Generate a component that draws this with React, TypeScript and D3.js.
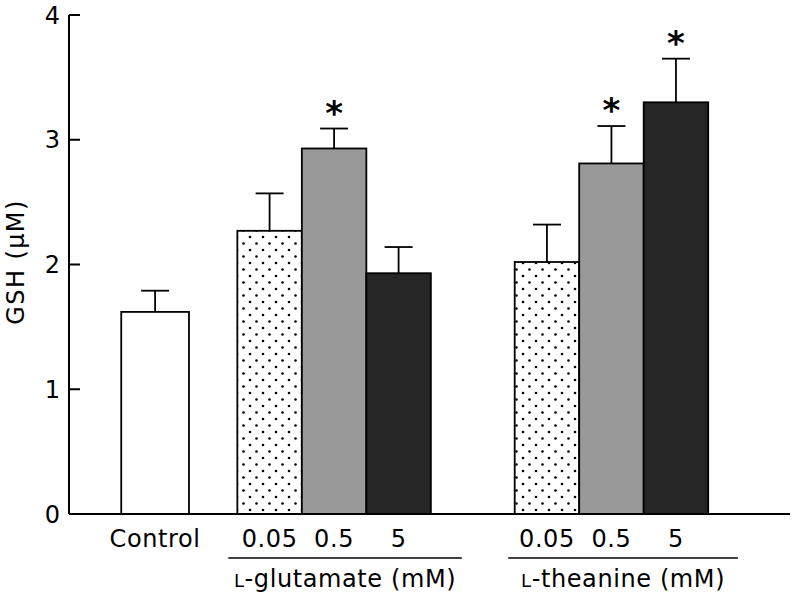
import React from 'react';
import * as d3 from 'd3';

// values
const groups = ['Control', 'L-glutamate', 'L-theanine'];
const doses = ['0.05', '0.5', '5'];
const controlMean = [1.62];
const controlErr = [0.17];
const glutamateMean = [2.27, 2.93, 1.93];
const glutamateErr = [0.30, 0.16, 0.21];
const theanineMean = [2.02, 2.81, 3.30];
const theanineErr = [0.30, 0.30, 0.35];
const glutamateSig = [false, true, false];
const theanineSig = [false, true, true];
const yTicks = [0, 1, 2, 3, 4];

const fills = ['url(#dots)', '#999999', '#262626'];
const FONT = '"DejaVu Sans", Verdana, sans-serif';
const FS = 24;
const LS = 0.6;

const W = 793;
const H = 595;
const margin = { left: 69, top: 15, right: 3, bottom: 81 };

export default function App() {
  const y = d3.scaleLinear().domain([0, 4]).range([H - margin.bottom, margin.top]);
  // x in "bar width" units from the y axis
  const x = d3.scaleLinear().domain([0, 1]).range([margin.left, margin.left + 64.5]);
  const barW = x(1) - x(0);

  const bars: any[] = [];
  controlMean.forEach((v, i) => {
    bars.push({ x0: x(0.81), w: barW * 1.05, v, e: controlErr[i], fill: '#ffffff', sig: false, label: groups[0] });
  });
  glutamateMean.forEach((v, i) => {
    bars.push({ x0: x(2.61 + i), w: barW, v, e: glutamateErr[i], fill: fills[i], sig: glutamateSig[i], label: doses[i] });
  });
  theanineMean.forEach((v, i) => {
    bars.push({ x0: x(6.91 + i), w: barW, v, e: theanineErr[i], fill: fills[i], sig: theanineSig[i], label: doses[i] });
  });

  const groupLines = [
    { g: 'L-glutamate', a: x(2.47), b: x(6.09) },
    { g: 'L-theanine', a: x(6.81), b: x(10.37) },
  ];

  const base = y(0);

  return (
    <svg width={W} height={H} style={{ position: 'absolute', left: 0, top: 0 }} fontFamily={FONT}>
      <defs>
        <pattern id="dots" width="13" height="13" patternUnits="userSpaceOnUse">
          <rect width="13" height="13" fill="#ffffff" />
          <circle cx="3" cy="3" r="1.3" fill="#000" />
          <circle cx="9.5" cy="9.5" r="1.3" fill="#000" />
        </pattern>
      </defs>

      {bars.map((d, i) => {
        const cx = d.x0 + d.w / 2;
        const top = y(d.v + d.e);
        return (
          <g key={i}>
            <line x1={cx} x2={cx} y1={y(d.v)} y2={top} stroke="#000" strokeWidth={1.8} />
            <line x1={cx - 14} x2={cx + 14} y1={top} y2={top} stroke="#000" strokeWidth={1.8} />
            <rect x={d.x0} y={y(d.v)} width={d.w} height={base - y(d.v)} fill={d.fill} stroke="#000" strokeWidth={1.8} />
            {d.sig && (
              <text x={cx} y={top - 4} textAnchor="middle" fontSize={34} fontWeight="bold">*</text>
            )}
            <text x={cx} y={547} textAnchor="middle" fontSize={FS} letterSpacing={LS}>{d.label}</text>
          </g>
        );
      })}

      {/* axes */}
      <line x1={margin.left} x2={margin.left} y1={y(4)} y2={base} stroke="#000" strokeWidth={2} />
      <line x1={margin.left} x2={W - margin.right} y1={base} y2={base} stroke="#000" strokeWidth={2} />
      {yTicks.map(t => (
        <g key={t}>
          <line x1={margin.left} x2={margin.left + 11} y1={y(t)} y2={y(t)} stroke="#000" strokeWidth={2} />
          <text x={margin.left - 9} y={y(t)} dy="0.36em" textAnchor="end" fontSize={FS}>{t}</text>
        </g>
      ))}
      <text transform="translate(24,262) rotate(-90)" textAnchor="middle" fontSize={24} letterSpacing={1.4}>GSH (μM)</text>

      {groupLines.map(gl => (
        <g key={gl.g}>
          <line x1={gl.a} x2={gl.b} y1={558} y2={558} stroke="#000" strokeWidth={1.5} />
          <text x={(gl.a + gl.b) / 2} y={587} textAnchor="middle" fontSize={FS} letterSpacing={LS}>
            <tspan fontSize={18}>L</tspan>{gl.g.slice(1) + ' (mM)'}
          </text>
        </g>
      ))}
    </svg>
  );
}
